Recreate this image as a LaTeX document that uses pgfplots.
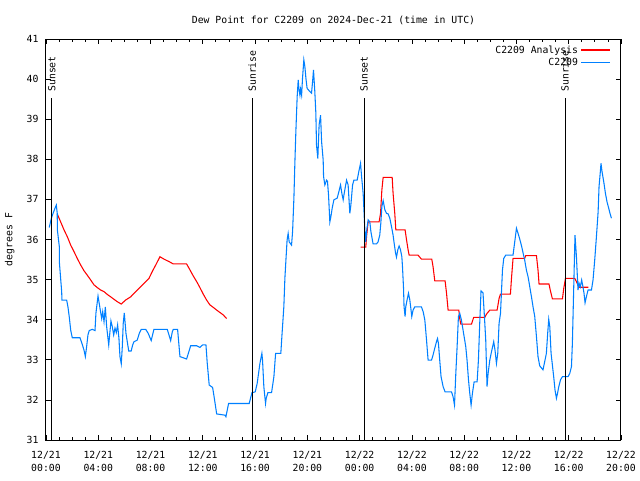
\documentclass[border=0pt]{standalone}
\usepackage{fontspec}
\setmainfont{DejaVu Sans Mono}
\usepackage{pgfplots}
\pgfplotsset{compat=1.18}
\definecolor{obsblue}{RGB}{0,128,255}
\definecolor{anared}{RGB}{255,0,0}
\begin{document}
\fontsize{7.35}{9.75}\selectfont
\begin{tikzpicture}[x=1pt,y=1pt]
\path[use as bounding box] (-34.5pt,-30pt) rectangle (445.5pt,330pt);
\begin{axis}[
  at={(0pt,0pt)}, anchor=south west,
  scale only axis, width=431.25pt, height=300.75pt,
  xmin=0, xmax=44, ymin=31, ymax=41,
  clip=false,
  unbounded coords=jump,
  /pgf/number format/assume math mode=true,
  font=\fontsize{7.35}{9.75}\selectfont,
  xtick={0,4,8,12,16,20,24,28,32,36,40,44},
  xticklabels={{12/21\\00:00},{12/21\\04:00},{12/21\\08:00},{12/21\\12:00},{12/21\\16:00},{12/21\\20:00},{12/22\\00:00},{12/22\\04:00},{12/22\\08:00},{12/22\\12:00},{12/22\\16:00},{12/22\\20:00}},
  xticklabel style={align=center, yshift=-5.5pt, font=\fontsize{7.35}{9.75}\selectfont},
  minor x tick num=3,
  ytick={31,32,33,34,35,36,37,38,39,40,41},
  yticklabel style={xshift=-3pt, font=\fontsize{7.35}{9.75}\selectfont},
  tick align=inside,
  major tick length=4pt, minor tick length=2.2pt,
  every tick/.style={black, line width=0.6pt},
  axis line style={black, line width=0.75pt},
  title={Dew Point for C2209 on 2024-Dec-21 (time in UTC)},
  title style={at={(axis description cs:0.5,1)}, anchor=base, yshift=6pt, font=\fontsize{7.35}{9.75}\selectfont},
  ylabel={degrees F},
  ylabel style={at={(axis description cs:-0.063,0.5)}, anchor=center, font=\fontsize{7.35}{9.75}\selectfont},
  legend cell align=right,
  legend plot pos=right,
  legend style={draw=none, fill=none, at={(0.982,0.991)}, anchor=north east, font=\fontsize{7.35}{9}\selectfont, inner sep=0pt, row sep=-1.5pt, /tikz/every even column/.append style={column sep=6pt}},
]
\addplot[anared, line width=0.8pt, legend image code/.code={\draw[draw=anared, line width=0.8pt] (0pt,0pt) -- (21.5pt,0pt);}] coordinates {
(0.86,36.64) (1.12,36.44) (1.38,36.24) (1.63,36.07) (1.89,35.86) (2.14,35.70) (2.39,35.53) (2.66,35.36) (2.91,35.22) (3.16,35.11) (3.42,34.99) (3.67,34.87) (3.93,34.80) (4.18,34.74) (4.44,34.70) (4.69,34.63) (4.95,34.57) (5.20,34.51) (5.45,34.45) (5.76,34.39) (6.09,34.49) (6.48,34.57) (6.86,34.70) (7.24,34.82) (7.63,34.95) (7.88,35.03) (8.13,35.20) (8.39,35.36) (8.72,35.57) (9.03,35.51) (9.41,35.45) (9.74,35.39) (10.76,35.39) (11.02,35.24) (11.27,35.09) (11.53,34.95) (11.78,34.80) (12.03,34.64) (12.29,34.49) (12.54,34.37) (12.79,34.31) (13.06,34.24) (13.31,34.18) (13.56,34.12) (13.82,34.03)
(14,nan)
(24.07,35.81) (24.47,35.81) (24.53,36.07) (24.65,36.44) (25.49,36.44) (25.60,36.65) (25.70,37.23) (25.80,37.55) (26.49,37.55) (26.56,37.15) (26.69,36.65) (26.77,36.24) (27.48,36.24) (27.59,35.99) (27.71,35.74) (27.79,35.61) (28.47,35.61) (28.73,35.51) (29.52,35.51) (29.62,35.32) (29.75,34.97) (30.54,34.97) (30.65,34.66) (30.77,34.24) (31.59,34.24) (31.66,34.03) (31.74,33.89) (32.56,33.89) (32.73,34.06) (33.58,34.06) (33.71,34.14) (33.96,34.24) (34.52,34.24) (34.67,34.53) (34.78,34.64) (35.54,34.64) (35.62,35.03) (35.74,35.53) (36.63,35.53) (36.71,35.60) (37.53,35.60) (37.65,35.24) (37.73,34.89) (38.49,34.89) (38.60,34.72) (38.75,34.52) (39.52,34.52) (39.62,34.78) (39.75,35.03) (40.46,35.03) (40.59,34.95) (40.74,34.84) (40.84,34.81) (41.51,34.81)
};
\addlegendentry{C2209 Analysis}
\addplot[obsblue, line width=0.8pt, legend image code/.code={\draw[draw=obsblue, line width=0.8pt] (0pt,0pt) -- (21.5pt,0pt);}] coordinates {
(0.25,36.30) (0.41,36.53) (0.56,36.67) (0.69,36.78) (0.79,36.86) (0.86,36.65) (0.87,36.24) (1.02,35.82) (1.02,35.45) (1.12,35.03) (1.20,34.70) (1.22,34.49) (1.58,34.49) (1.68,34.32) (1.78,34.07) (1.89,33.74) (2.01,33.55) (2.60,33.55) (2.75,33.41) (2.91,33.24) (3.01,33.08) (3.11,33.33) (3.21,33.62) (3.31,33.73) (3.54,33.76) (3.75,33.73) (3.82,34.16) (3.98,34.59) (4.05,34.45) (4.26,34.03) (4.34,34.20) (4.44,33.95) (4.54,34.32) (4.64,33.83) (4.80,33.37) (4.97,33.97) (5.07,33.83) (5.18,33.62) (5.28,33.79) (5.38,33.68) (5.48,33.87) (5.58,33.54) (5.66,33.08) (5.76,32.90) (5.84,33.33) (5.91,33.91) (5.99,34.17) (6.12,33.66) (6.22,33.45) (6.33,33.22) (6.52,33.22) (6.63,33.37) (6.73,33.45) (6.98,33.49) (7.14,33.66) (7.29,33.76) (7.63,33.76) (7.82,33.66) (8.05,33.48) (8.26,33.76) (9.28,33.76) (9.54,33.48) (9.66,33.69) (9.74,33.76) (10.07,33.76) (10.25,33.08) (10.76,33.02) (11.07,33.35) (11.53,33.35) (11.78,33.31) (11.98,33.37) (12.24,33.37) (12.34,32.91) (12.49,32.37) (12.75,32.31) (12.90,32.00) (13.06,31.65) (13.69,31.62) (13.77,31.58) (13.97,31.91) (15.55,31.91) (15.76,32.18) (16.01,32.20) (16.16,32.41) (16.37,32.91) (16.52,33.16) (16.57,32.99) (16.67,32.33) (16.80,31.91) (16.85,32.04) (16.98,32.18) (17.26,32.18) (17.44,32.58) (17.57,33.16) (17.97,33.16) (18.05,33.58) (18.20,34.32) (18.28,35.03) (18.36,35.49) (18.45,35.99) (18.53,36.15) (18.61,35.94) (18.79,35.86) (18.87,36.20) (18.97,37.03) (19.04,37.86) (19.12,38.69) (19.22,39.56) (19.30,39.98) (19.35,39.77) (19.43,39.60) (19.48,39.75) (19.56,39.60) (19.63,40.02) (19.73,40.48) (19.81,40.31) (19.89,40.02) (19.98,39.77) (20.19,39.69) (20.32,39.65) (20.40,39.94) (20.47,40.23) (20.57,39.69) (20.65,39.15) (20.70,38.36) (20.80,38.02) (20.90,38.86) (21.01,39.10) (21.09,38.44) (21.21,37.98) (21.24,37.57) (21.34,37.36) (21.47,37.48) (21.54,37.45) (21.62,37.11) (21.72,36.44) (21.80,36.57) (21.90,36.78) (22.03,36.99) (22.28,37.03) (22.41,37.19) (22.54,37.36) (22.64,37.15) (22.74,36.99) (22.84,37.19) (23.00,37.48) (23.12,37.36) (23.25,36.65) (23.33,36.86) (23.46,37.36) (23.56,37.48) (23.81,37.48) (23.96,37.73) (24.07,37.90) (24.15,37.57) (24.27,37.15) (24.40,36.24) (24.47,35.94) (24.53,36.20) (24.65,36.49) (24.78,36.44) (24.86,36.20) (25.03,35.89) (25.29,35.89) (25.41,35.94) (25.54,36.11) (25.62,36.40) (25.70,36.82) (25.80,36.97) (25.93,36.74) (26.06,36.65) (26.18,36.64) (26.31,36.53) (26.44,36.32) (26.56,36.11) (26.64,35.91) (26.75,35.66) (26.82,35.56) (26.92,35.74) (27.02,35.84) (27.13,35.74) (27.23,35.57) (27.28,35.32) (27.36,34.78) (27.40,34.32) (27.48,34.08) (27.53,34.32) (27.63,34.49) (27.74,34.66) (27.84,34.49) (27.92,34.28) (27.99,34.08) (28.09,34.24) (28.22,34.32) (28.73,34.32) (28.86,34.20) (28.99,33.99) (29.12,33.49) (29.24,32.99) (29.50,32.99) (29.62,33.12) (29.75,33.29) (29.88,33.45) (29.96,33.53) (30.03,33.41) (30.13,32.99) (30.23,32.58) (30.39,32.33) (30.54,32.20) (31.03,32.20) (31.15,32.08) (31.26,31.87) (31.36,32.66) (31.46,33.33) (31.56,34.08) (31.66,34.16) (31.79,33.99) (32.12,33.33) (32.22,32.99) (32.33,32.50) (32.43,32.16) (32.53,31.87) (32.63,32.16) (32.76,32.45) (32.99,32.45) (33.09,32.99) (33.19,33.91) (33.29,34.72) (33.44,34.67) (33.55,34.08) (33.65,33.49) (33.75,32.33) (33.83,32.66) (33.96,32.99) (34.09,33.20) (34.26,33.45) (34.36,33.24) (34.47,32.91) (34.57,33.16) (34.67,33.91) (34.78,34.16) (34.85,34.66) (34.93,35.24) (35.03,35.53) (35.18,35.61) (35.74,35.61) (35.82,35.82) (35.92,36.07) (36.00,36.28) (36.08,36.20) (36.20,36.07) (36.31,35.94) (36.41,35.81) (36.51,35.66) (36.63,35.49) (36.76,35.24) (36.89,35.07) (37.02,34.82) (37.15,34.57) (37.27,34.32) (37.40,34.08) (37.53,33.58) (37.65,33.08) (37.78,32.85) (37.93,32.79) (38.03,32.75) (38.16,32.95) (38.29,33.16) (38.39,33.66) (38.47,34.01) (38.55,33.83) (38.65,33.16) (38.75,32.87) (38.85,32.58) (38.95,32.25) (39.06,32.04) (39.14,32.16) (39.24,32.33) (39.37,32.50) (39.52,32.58) (39.95,32.58) (40.08,32.66) (40.21,32.83) (40.28,33.41) (40.36,34.49) (40.44,35.57) (40.48,36.11) (40.54,35.82) (40.59,35.57) (40.71,34.74) (40.79,34.91) (40.89,34.82) (40.99,34.99) (41.09,34.82) (41.17,34.66) (41.25,34.42) (41.35,34.57) (41.48,34.74) (41.74,34.74) (41.86,34.99) (41.99,35.49) (42.12,36.07) (42.25,36.69) (42.32,37.32) (42.43,37.73) (42.47,37.90) (42.55,37.69) (42.68,37.44) (42.81,37.15) (42.93,36.94) (43.06,36.78) (43.16,36.65) (43.27,36.53)
};
\addlegendentry{C2209}
\addplot[black, line width=0.75pt, forget plot] coordinates {(0.44,31) (0.44,39.53)};
\addplot[black, line width=0.75pt, forget plot] coordinates {(15.78,31) (15.78,39.53)};
\addplot[black, line width=0.75pt, forget plot] coordinates {(24.34,31) (24.34,39.53)};
\addplot[black, line width=0.75pt, forget plot] coordinates {(39.72,31) (39.72,39.53)};
\node[rotate=90, anchor=west, inner sep=0pt] at (axis cs:0.44,39.68) {Sunset};
\node[rotate=90, anchor=west, inner sep=0pt] at (axis cs:15.78,39.68) {Sunrise};
\node[rotate=90, anchor=west, inner sep=0pt] at (axis cs:24.34,39.68) {Sunset};
\node[rotate=90, anchor=west, inner sep=0pt] at (axis cs:39.72,39.68) {Sunrise};
\end{axis}
\end{tikzpicture}
\end{document}
